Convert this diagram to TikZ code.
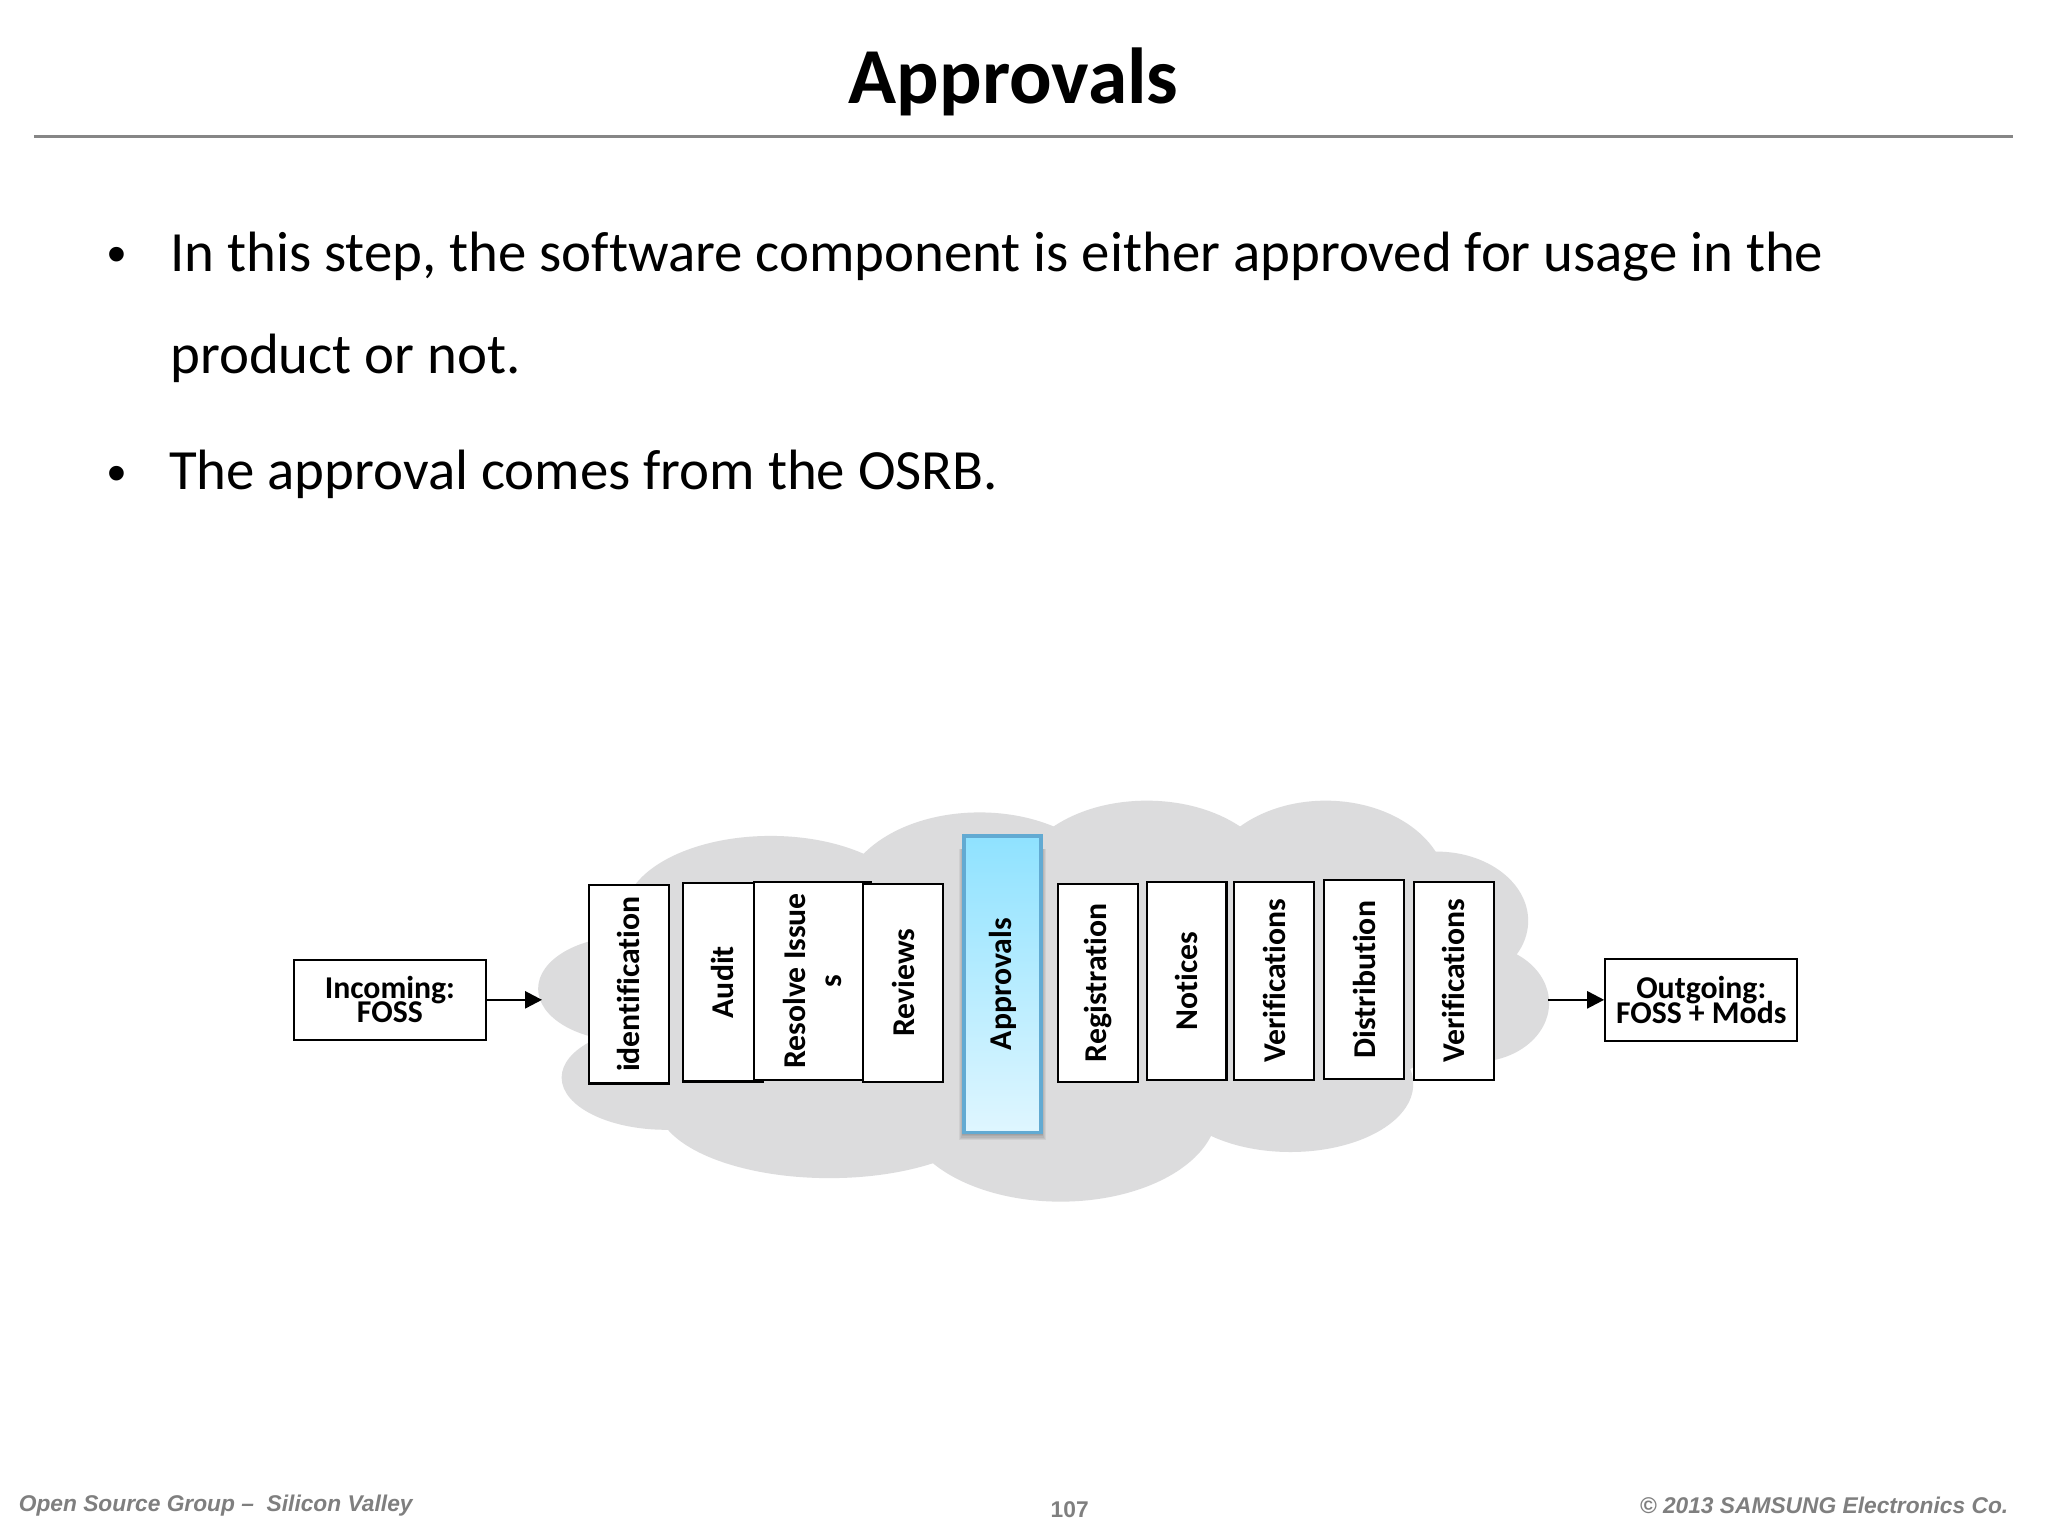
\documentclass[tikz,border=0pt]{standalone}
\usepackage{fontspec}
\setmainfont[Ligatures=NoCommon]{Carlito}
\newfontfamily\footfont{Liberation Sans}
\usetikzlibrary{arrows.meta}
\definecolor{cloudgray}{HTML}{DCDCDD}
\definecolor{rulegray}{HTML}{868686}
\definecolor{footgray}{HTML}{7F7F7F}
\definecolor{stagetop}{HTML}{8FE2FF}
\definecolor{stagebot}{HTML}{DFF6FF}
\definecolor{stageline}{HTML}{62AAD2}
\tikzset{
  x=0.4609pt, y=-0.4609pt,
  lobe/.style={fill=cloudgray, draw=none},
  bullettext/.style={anchor=base west, inner sep=0pt, font=\fontsize{20.06}{22}\selectfont},
  bulletdot/.style={anchor=base, inner sep=0pt, font=\footfont\fontsize{19}{22}\selectfont},
  footer/.style={inner sep=0pt, text=footgray, font=\footfont\bfseries\fontsize{8.03}{10}\selectfont},
  stagebox/.style={draw=black, fill=white, line width=0.75pt, inner sep=0pt, rotate=90,
    minimum width=152*0.4609pt, minimum height=61*0.4609pt, align=center,
    font=\bfseries\fontsize{11.2}{13}\selectfont},
  ioblock/.style={draw=black, fill=white, line width=0.75pt, inner sep=0pt,
    minimum width=147*0.4609pt, align=center,
    font=\bfseries\fontsize{11.2}{8.4}\selectfont},
  flow/.style={black, line width=0.9pt, -{Triangle[length=6pt,width=6pt]}},
}
\begin{document}
\begin{tikzpicture}
\useasboundingbox (0,0) rectangle (1568,1176);
\fill[white] (0,0) rectangle (1568,1176);
% title
\node[anchor=base, inner sep=0pt, font=\bfseries\fontsize{28}{30}\selectfont] (title) at (776,79) {Approvals};
\draw[rulegray, line width=1pt] (26,104.5) -- (1541,104.5);
% bullets
\node[bulletdot] (dotone) at (89.5,209) {•};
\node[bullettext] (lineone) at (130,208) {In this step, the software component is either approved for usage in the};
\node[bullettext] (linetwo) at (130,286) {product or not.};
\node[bulletdot] (dottwo) at (89.5,376) {•};
\node[bullettext] (linethree) at (129,375) {The approval comes from the OSRB.};
% cloud
\fill[lobe] (480,757) ellipse (68 and 40);
\fill[lobe] (510,825) ellipse (80 and 40);
\fill[lobe] (590,700) ellipse (112 and 60);
\fill[lobe] (750,690) ellipse (105 and 68);
\fill[lobe] (878,679) ellipse (100 and 66);
\fill[lobe] (1015,681) ellipse (93 and 68);
\fill[lobe] (1100,705) ellipse (70 and 53);
\fill[lobe] (1130,768) ellipse (56 and 45);
\fill[lobe] (988,830) ellipse (94 and 52);
\fill[lobe] (812,850) ellipse (120 and 70);
\fill[lobe] (635,845) ellipse (132 and 57);
\fill[lobe] (800,760) ellipse (330 and 110);
% stages
\node[stagebox] (identification) at (481.5,753.5) {identification};
\node[stagebox] (audit) at (553.5,752) {Audit};
\node[stagebox, minimum height=90*0.4609pt] (resolve) at (622,751) {Resolve Issue\\s};
\node[stagebox] (reviews) at (691.5,752.5) {Reviews};
% soft shadow under the highlighted stage
\foreach \g in {6,5,4,3,2,1}
  \fill[black, opacity=0.06] (738-0.6*\g,650) rectangle (797+0.6*\g,867+\g);
\node[stagebox, draw=stageline, line width=1.2pt, minimum width=227*0.4609pt, minimum height=59*0.4609pt,
  top color=stagetop, bottom color=stagebot] (approvals) at (767.5,753.5) {Approvals};
\node[stagebox] (registration) at (840.5,752.5) {Registration};
\node[stagebox] (notices) at (908.5,751) {Notices};
\node[stagebox] (verifyone) at (975.5,751) {Verifications};
\node[stagebox] (distribution) at (1044.5,750) {Distribution};
\node[stagebox] (verifytwo) at (1113,751) {Verifications};
% in and out
\node[ioblock, minimum height=61*0.4609pt] (incoming) at (298.5,765.5) {Incoming:\\[-1.7pt]FOSS};
\node[ioblock, minimum height=63*0.4609pt] (outgoing) at (1302.5,765.5) {Outgoing:\\[-1.7pt]FOSS + Mods};
\coordinate (cloudin) at (415,765.5);
\coordinate (cloudout) at (1185,765.5);
\draw[flow] (incoming) -- (cloudin);
\draw[flow] (cloudout) -- (outgoing);
% footer
\node[footer, anchor=base west] (group) at (14,1157) {\itshape Open Source Group –\ \ Silicon Valley};
\node[footer, anchor=base] (page) at (819,1162) {107};
\node[footer, anchor=base east] (copyright) at (1538,1159) {\itshape © 2013 SAMSUNG Electronics Co.};
\end{tikzpicture}
\end{document}
